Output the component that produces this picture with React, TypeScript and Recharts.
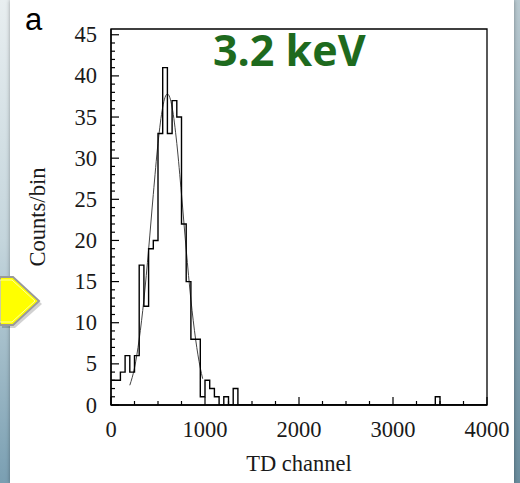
import { ComposedChart, Line, XAxis, YAxis, ReferenceArea, Label } from 'recharts';

// histogram: counts per 50-channel bin, from channel 0 up to 4000
const BIN_WIDTH = 50;
const counts = [
  3, 3, 4, 6, 4, 6, 17, 12, 19, 20,
  33, 41, 33, 37, 35, 22, 15, 8, 8, 1,
  3, 2, 1, 0, 1, 0, 2, 0, 0, 0,
  0, 0, 0, 0, 0, 0, 0, 0, 0, 0,
  0, 0, 0, 0, 0, 0, 0, 0, 0, 0,
  0, 0, 0, 0, 0, 0, 0, 0, 0, 0,
  0, 0, 0, 0, 0, 0, 0, 0, 0, 1,
  0, 0, 0, 0, 0, 0, 0, 0, 0, 0,
];

// gaussian fit
const fitX = [200, 250, 300, 350, 400, 450, 500, 550, 575, 600, 625, 650, 700, 750, 800, 850, 900, 950, 975];
const fitY = [2.4, 4.5, 8.0, 12.8, 18.9, 25.6, 31.8, 36.2, 37.4, 37.8, 37.4, 36.2, 31.8, 25.6, 18.9, 12.8, 8.0, 4.5, 3.2];

const xTicks = [0, 250, 500, 750, 1000, 1250, 1500, 1750, 2000, 2250, 2500, 2750, 3000, 3250, 3500, 3750, 4000];
const xLabels = [0, 1000, 2000, 3000, 4000];
const yTicks = Array.from({ length: 46 }, (_, i) => i);
const yLabels = [0, 5, 10, 15, 20, 25, 30, 35, 40, 45];

const X_MAX = 4000;
const Y_MAX = 45.7;

const histData = [
  ...counts.map((c, i) => ({ x: i * BIN_WIDTH, y: c })),
  { x: counts.length * BIN_WIDTH, y: counts[counts.length - 1] },
];
const fitData = fitX.map((x, i) => ({ x, y: fitY[i] }));

const serif = '"Liberation Serif", "Times New Roman", serif';
const textColor = '#1a1a1a';

const XTick = (props: any) => {
  const { x, y, payload } = props;
  const major = xLabels.includes(payload.value);
  return (
    <g>
      <line x1={x} x2={x} y1={y} y2={y - (major ? 8 : 4)} stroke="#000" strokeWidth={1.2} />
      {major && (
        <text x={x} y={y + 32} textAnchor="middle" fontFamily={serif} fontSize={22.5} fill={textColor}>
          {payload.value}
        </text>
      )}
    </g>
  );
};

const YTick = (props: any) => {
  const { x, y, payload } = props;
  const major = yLabels.includes(payload.value);
  return (
    <g>
      <line x1={x} x2={x + (major ? 8 : 4)} y1={y} y2={y} stroke="#000" strokeWidth={1.2} />
      {major && (
        <text x={x - 14} y={y + 7.5} textAnchor="end" fontFamily={serif} fontSize={22.5} fill={textColor}>
          {payload.value}
        </text>
      )}
    </g>
  );
};

export default function App() {
  return (
    <div style={{ position: 'absolute', left: 0, top: 0, width: 520, height: 483, overflow: 'hidden' }}>
      <div style={{ position: 'absolute', left: 0, top: 0, width: 10, height: 483, background: 'linear-gradient(#e8eef0, #c4d5dc 50%, #7a9fb2)' }} />
      <div style={{ position: 'absolute', left: 514, top: 0, width: 6, height: 483, background: 'linear-gradient(#b9c9d0, #8ea9b6 50%, #6a8c9d)' }} />
      <div style={{ position: 'absolute', left: 10, top: 0, width: 504, height: 483, background: '#fff', boxShadow: '0 0 4px rgba(0,0,0,0.35)' }} />
      <div style={{ position: 'absolute', left: 0, top: 0 }}>
        <ComposedChart width={520} height={483} margin={{ top: 29, right: 33, bottom: 38, left: 21 }}>
          <XAxis
            type="number"
            dataKey="x"
            domain={[0, X_MAX]}
            ticks={xTicks}
            interval={0}
            allowDataOverflow
            height={40}
            tickSize={0}
            tickMargin={0}
            tickLine={false}
            stroke="#000"
            strokeWidth={1.3}
            tick={<XTick />}
          >
            <Label value="TD channel" position="bottom" offset={10} fontFamily={serif} fontSize={22.5} fill={textColor} />
          </XAxis>
          <YAxis
            type="number"
            domain={[0, Y_MAX]}
            ticks={yTicks}
            interval={0}
            allowDataOverflow
            width={90}
            tickSize={0}
            tickMargin={0}
            tickLine={false}
            stroke="#000"
            strokeWidth={1.3}
            tick={<YTick />}
          >
            <Label
              value="Counts/bin"
              angle={-90}
              position="insideLeft"
              offset={16}
              fontFamily={serif}
              fontSize={22.5}
              fill={textColor}
              style={{ textAnchor: 'middle' }}
            />
          </YAxis>
          <ReferenceArea x1={0} x2={X_MAX} y1={0} y2={Y_MAX} fill="none" stroke="#000" strokeWidth={1.3} />
          <Line
            data={fitData}
            dataKey="y"
            type="monotone"
            stroke="#444"
            strokeWidth={1}
            dot={false}
            activeDot={false}
            isAnimationActive={false}
          />
          <Line
            data={histData}
            dataKey="y"
            type="stepAfter"
            stroke="#000"
            strokeWidth={1.4}
            dot={false}
            activeDot={false}
            isAnimationActive={false}
          />
        </ComposedChart>
      </div>
      <svg width={520} height={483} style={{ position: 'absolute', left: 0, top: 0, pointerEvents: 'none' }}>
        <polygon points="2,280 15,280 42,304 15,328 2,328" fill="rgba(0,0,0,0.18)" />
        <polygon points="0,277 13,277 39,301 13,325 0,325" fill="#ffff00" stroke="#9a9a9a" strokeWidth={2} />
        <polygon points="0,280 12,280 35,301 12,322 0,322" fill="none" stroke="#ffff9e" strokeWidth={1} />
        <text x={25} y={30} fontFamily='"Liberation Sans", Arial, sans-serif' fontSize={31} fill="#000">a</text>
        <text x={213} y={66} fontFamily='"Open Sans", sans-serif' fontWeight={700} fontSize={43} fill="#1e6a1e">3.2 keV</text>
      </svg>
    </div>
  );
}
